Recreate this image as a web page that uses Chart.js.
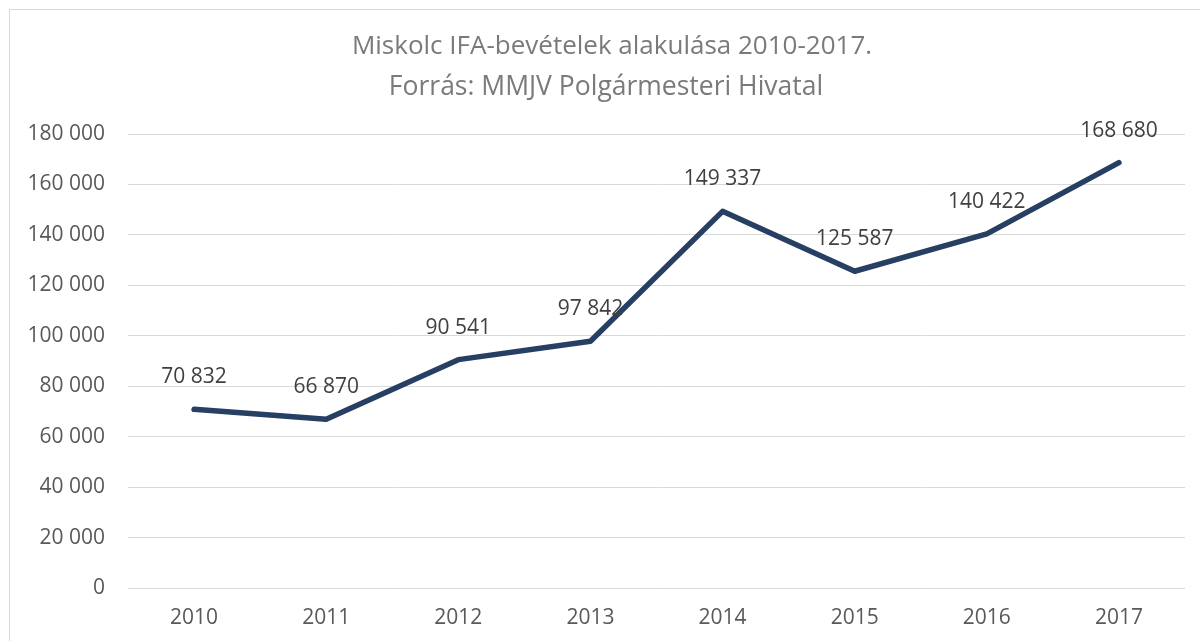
<!DOCTYPE html>
<html>
<head>
<meta charset="utf-8">
<script src="https://cdn.jsdelivr.net/npm/chart.js@4/dist/chart.umd.min.js"></script>
<style>
html,body{margin:0;padding:0;background:#fff;}
#wrap{width:1200px;height:641px;position:relative;}
</style>
</head>
<body>
<div id="wrap"><canvas id="c" width="1200" height="641"></canvas></div>
<script>
const categories = ["2010","2011","2012","2013","2014","2015","2016","2017"];
const values = [70832, 66870, 90541, 97842, 149337, 125587, 140422, 168680];
const titleLines = ["Miskolc IFA-bevételek alakulása 2010-2017.", "Forrás: MMJV Polgármesteri Hivatal"];
const yMin = 0, yMax = 180000, yStep = 20000;

const FONT = "'Open Sans', sans-serif";
function fmt(v){ return String(Math.round(v)).replace(/\B(?=(\d{3})+(?!\d))/g, " "); }

const decor = {
  id: 'decor',
  beforeDraw(chart){
    const ctx = chart.ctx;
    ctx.save();
    ctx.fillStyle = '#fff';
    ctx.fillRect(0,0,chart.width,chart.height);
    ctx.strokeStyle = '#d9d9d9';
    ctx.lineWidth = 1;
    ctx.strokeRect(9.5, 9.5, 1300, 700);
    ctx.fillStyle = '#7a7a7a';
    ctx.font = "26px " + FONT;
    ctx.textAlign = 'center';
    ctx.textBaseline = 'middle';
    ctx.fillText(titleLines[0], 612, 47);
    ctx.font = "26.5px " + FONT;
    ctx.fillText(titleLines[1], 606, 87);
    ctx.restore();
  },
  afterDatasetsDraw(chart){
    const ctx = chart.ctx;
    const meta = chart.getDatasetMeta(0);
    ctx.save();
    ctx.fillStyle = '#404040';
    ctx.font = "21px " + FONT;
    ctx.textAlign = 'center';
    ctx.textBaseline = 'middle';
    meta.data.forEach((p, i) => {
      ctx.fillText(fmt(chart.data.datasets[0].data[i]), p.x, p.y - 32);
    });
    ctx.restore();
  }
};

new Chart(document.getElementById('c'), {
  type: 'line',
  data: {
    labels: categories,
    datasets: [{
      data: values,
      borderColor: '#263f63',
      borderWidth: 5.5,
      pointRadius: 0,
      tension: 0,
      borderCapStyle: 'round',
      borderJoinStyle: 'round',
      fill: false
    }]
  },
  options: {
    responsive: false,
    animation: false,
    devicePixelRatio: 1,
    layout: { padding: { top: 134, right: 15, bottom: 0, left: 10 } },
    plugins: { legend: { display: false }, title: { display: false }, tooltip: { enabled: false } },
    scales: {
      x: {
        offset: true,
        grid: { display: false, drawTicks: false },
        border: { display: false },
        ticks: { color: '#595959', font: { family: FONT, size: 21 }, padding: 17 },
        afterFit(s){ s.height = 53; }
      },
      y: {
        min: yMin, max: yMax,
        grid: { color: '#d9d9d9', lineWidth: 1, drawTicks: false },
        border: { display: false },
        ticks: { stepSize: yStep, color: '#595959', font: { family: FONT, size: 21 }, padding: 23, callback: v => fmt(v) },
        afterFit(s){ s.width = 118; }
      }
    }
  },
  plugins: [decor]
});
</script>
</body>
</html>
